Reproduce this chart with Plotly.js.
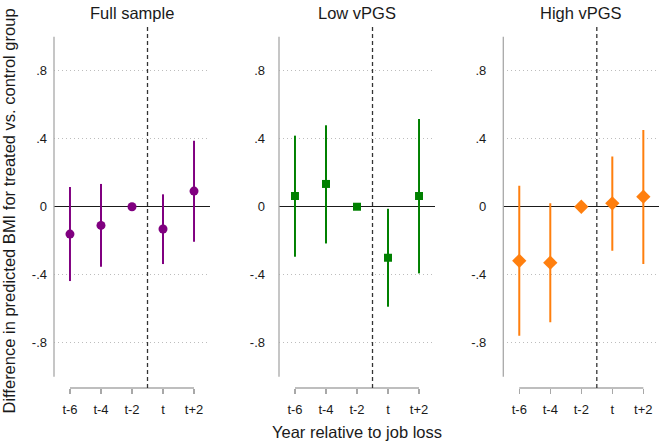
<!DOCTYPE html>
<html><head><meta charset="utf-8">
<script src="https://cdn.plot.ly/plotly-3.0.1.min.js"></script>
<style>html,body{margin:0;padding:0;background:#fff}#chart{width:660px;height:444px}</style>
</head><body><div id="chart"></div>
<script>
// ---- data ----
const periods = [-6, -4, -2, 0, 2];
const periodLabels = ['t-6', 't-4', 't-2', 't', 't+2'];
const yTickVals = [-0.8, -0.4, 0, 0.4, 0.8];
const yTickText = ['-.8', '-.4', '0', '.4', '.8'];
const panelTitles = ['Full sample', 'Low vPGS', 'High vPGS'];

const fullEst = [-0.161, -0.110, 0, -0.131, 0.092];
const fullLo  = [-0.437, -0.353, 0, -0.337, -0.206];
const fullHi  = [ 0.116,  0.134, 0,  0.073,  0.388];

const lowEst = [ 0.063,  0.134, 0, -0.300,  0.063];
const lowLo  = [-0.294, -0.216, 0, -0.588, -0.392];
const lowHi  = [ 0.418,  0.479, 0, -0.012,  0.516];

const highEst = [-0.318, -0.329, 0,  0.020,  0.059];
const highLo  = [-0.759, -0.680, 0, -0.259, -0.337];
const highHi  = [ 0.124,  0.020, 0,  0.296,  0.451];

// ---- styling ----
const W = 660, H = 444;
const panels = [
  {est: fullEst, lo: fullLo, hi: fullHi, color: '#800080', symbol: 'circle', size: 9, left: 54, standoff: 6},
  {est: lowEst, lo: lowLo, hi: lowHi, color: '#008000', symbol: 'square', size: 8, left: 279, standoff: 13},
  {est: highEst, lo: highLo, hi: highHi, color: '#ff7f0e', symbol: 'diamond', size: 11, left: 503.3, standoff: 16}
];
const plotW = 156;
const yDomain = [(H - 388) / H, (H - 27) / H];
const xRange = [-7.03, 3.03];
const yRange = [-1.066, 1.057];
const cutoff = -1; // between t-2 and t
const axisGray = '#a8a8a8';

const traces = [];
const layout = {
  width: W, height: H,
  margin: {l: 0, r: 0, t: 0, b: 0},
  paper_bgcolor: '#fff', plot_bgcolor: '#fff',
  showlegend: false,
  font: {family: 'Liberation Sans, Arial, sans-serif', size: 13, color: '#1a1a1a'},
  shapes: [], annotations: []
};

panels.forEach((p, i) => {
  const n = i === 0 ? '' : String(i + 1);
  traces.push({
    type: 'scatter', mode: 'markers',
    x: periods, y: p.est,
    xaxis: 'x' + n, yaxis: 'y' + n,
    marker: {color: p.color, symbol: p.symbol, size: p.size, line: {width: 0}},
    error_y: {
      type: 'data', symmetric: false,
      array: p.hi.map((h, k) => h - p.est[k]),
      arrayminus: p.est.map((e, k) => e - p.lo[k]),
      color: p.color, thickness: 2, width: 0
    },
    hoverinfo: 'x+y'
  });
  layout['xaxis' + n] = {
    domain: [p.left / W, (p.left + plotW) / W],
    range: xRange, anchor: 'y' + n,
    tickmode: 'array', tickvals: periods, ticktext: periodLabels,
    ticks: 'outside', ticklen: 5, tickwidth: 1.3, tickcolor: axisGray,
    ticklabelstandoff: 4,
    showgrid: false, zeroline: false, showline: false,
    tickfont: {size: 13}
  };
  layout['yaxis' + n] = {
    domain: yDomain, range: yRange, anchor: 'x' + n,
    tickmode: 'array', tickvals: yTickVals, ticktext: yTickText,
    ticks: '', ticklabelstandoff: p.standoff,
    showgrid: true, gridcolor: '#bdbdbd', griddash: '1px,3px', gridwidth: 1,
    zeroline: true, zerolinecolor: '#1a1a1a', zerolinewidth: 1.3,
    showline: false, tickfont: {size: 13}
  };
  // y axis line (spanning -1..1)
  layout.shapes.push({type: 'line', xref: 'x' + n + ' domain', yref: 'y' + n,
    x0: 0, x1: 0, y0: -1, y1: 1, line: {color: axisGray, width: 1.3}});
  // x axis line (spanning first to last period)
  layout.shapes.push({type: 'line', xref: 'x' + n, yref: 'y' + n + ' domain',
    x0: periods[0], x1: periods[periods.length - 1], y0: 0, y1: 0,
    line: {color: axisGray, width: 1.3}});
  // dashed job-loss line
  layout.shapes.push({type: 'line', xref: 'x' + n, yref: 'y' + n + ' domain',
    x0: cutoff, x1: cutoff, y0: 0, y1: 1,
    line: {color: '#333', width: 1.3, dash: '4px,3px'}});
  layout.annotations.push({text: panelTitles[i], showarrow: false,
    xref: 'x' + n + ' domain', x: 0.5, yref: 'paper', y: 1 - 13 / H,
    xanchor: 'center', yanchor: 'middle', font: {size: 16.5, color: '#1a1a1a'}});
});

layout.annotations.push({text: 'Difference in predicted BMI for treated vs. control group',
  showarrow: false, textangle: -90, xref: 'paper', yref: 'paper',
  x: 9 / W, y: (H - 211.5) / H, xanchor: 'center', yanchor: 'middle',
  font: {size: 16.5, color: '#1a1a1a'}});
layout.annotations.push({text: 'Year relative to job loss', showarrow: false,
  xref: 'paper', yref: 'paper', x: 357 / W, y: (H - 432) / H,
  xanchor: 'center', yanchor: 'middle', font: {size: 16.5, color: '#1a1a1a'}});

Plotly.newPlot('chart', traces, layout, {displayModeBar: false, staticPlot: true});
</script></body></html>
